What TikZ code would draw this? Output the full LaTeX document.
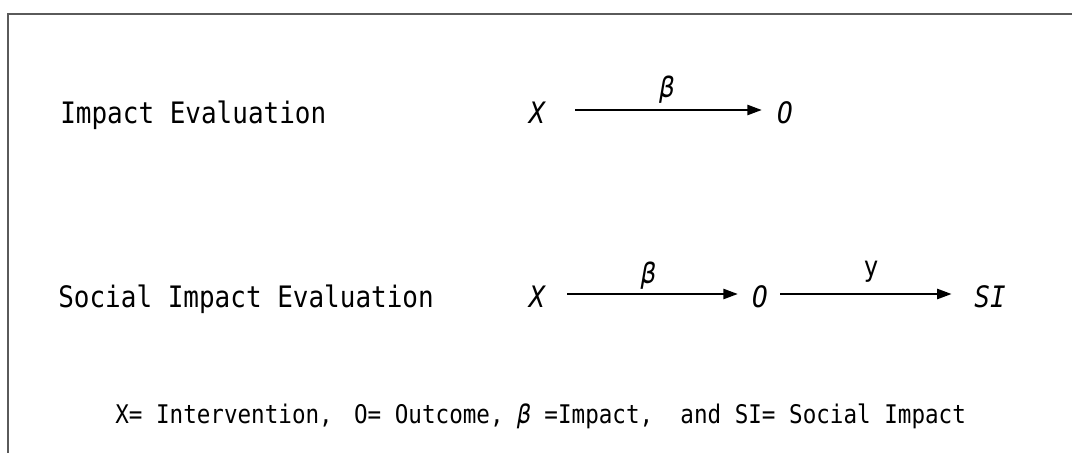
\documentclass[tikz,border=0pt]{standalone}
\usepackage{fontspec}
\setmainfont{DejaVu Sans Mono}[FakeStretch=0.88]
\usetikzlibrary{arrows.meta}
\definecolor{frm}{HTML}{5A5A5A}
\newcommand{\bigtxt}{\fontsize{21}{25}\selectfont}

\begin{document}
\begin{tikzpicture}[x=0.025cm,y=-0.025cm,
  ttl/.style={anchor=base west,inner sep=0pt,font=\bigtxt},
  var/.style={inner sep=0pt,text height=0.65cm,text depth=0pt,font=\bigtxt\itshape},
  arr/.style={-{Triangle[length=0.36cm,width=0.26cm]},line width=1pt},
  wt/.style={above,inner sep=0.15cm,font=\fontsize{20}{24}\selectfont\itshape}]
\useasboundingbox(0,0)rectangle(1072,453);
\draw[frm,line width=1.2pt](8,453)--(8,14)--(1072,14);
% first row
\node[ttl](ie)at(60,123){Impact Evaluation};
\node[var](x1)at(537,110){X};\node[var](o1)at(785,110){O};
\draw[arr,shorten <=0.755cm,shorten >=0.38cm](x1)--node[wt,xshift=0.15cm]{β}(o1);
% second row
\node[ttl](sie)at(58,307){Social Impact Evaluation};
\node[var](x2)at(537,294){X};\node[var](o2)at(760,294){O};\node[var](si)at(990,294){SI};
\draw[arr,shorten <=0.55cm,shorten >=0.355cm](x2)--node[wt,inner sep=0.1cm]{β}(o2);
\draw[arr,shorten <=0.3cm,shorten >=0.565cm](o2)--node[wt,inner sep=0.27cm,font=\fontsize{20}{24}\selectfont]{y}(si);
% legend
\node[anchor=base west,inner sep=0pt,font=\fontsize{18.25}{22}\selectfont](key)at(115,423){X= Intervention,\kern.3em{} O= Outcome, {\itshape β} =Impact,\ \ and SI= Social Impact};
\end{tikzpicture}
\end{document}
